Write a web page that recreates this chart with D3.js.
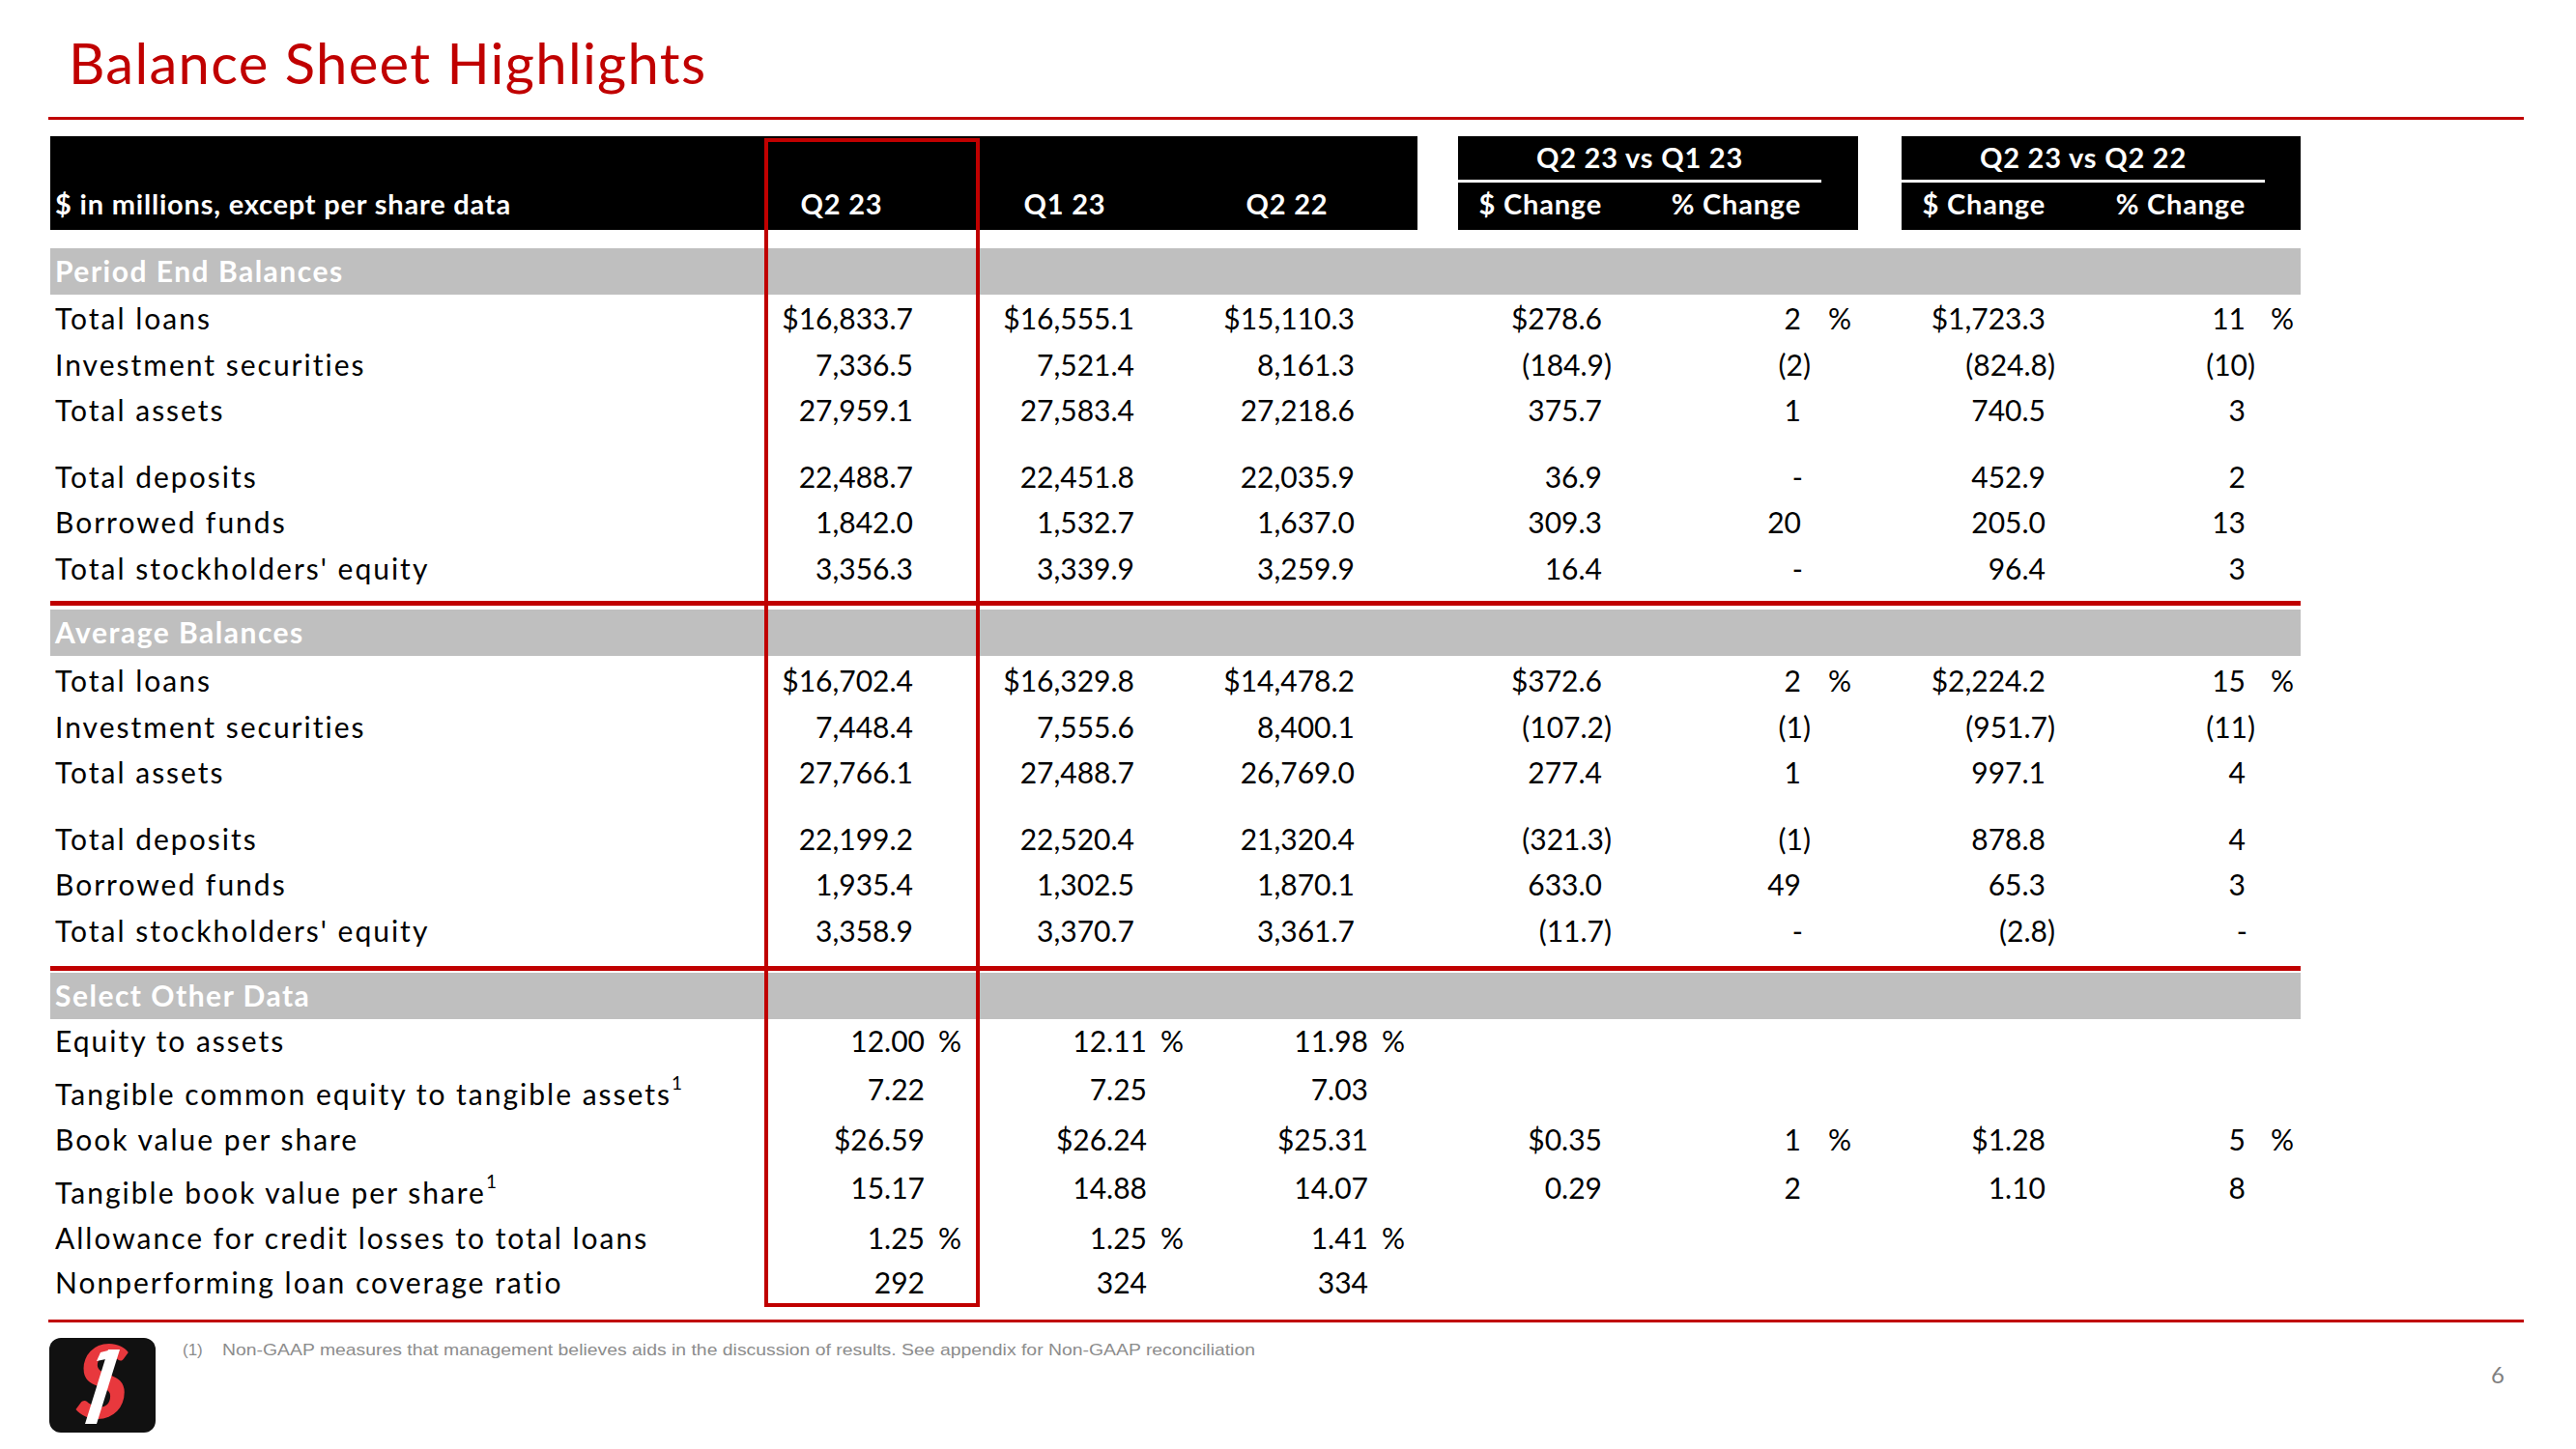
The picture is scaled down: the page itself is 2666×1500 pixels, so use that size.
<!DOCTYPE html>
<html>
<head>
<meta charset="utf-8">
<script src="https://cdn.jsdelivr.net/npm/d3@7"></script>
<style>
  html, body { margin: 0; padding: 0; background: #ffffff; }
  svg { display: block; }
</style>
</head>
<body>
<svg id="chart" width="2666" height="1500"></svg>
<script>
// ---------------- DATA ----------------
const title = "Balance Sheet Highlights";
const unitLabel = "$ in millions, except per share data";
const periodHeaders = ["Q2 23", "Q1 23", "Q2 22"];
const compareGroups = ["Q2 23 vs Q1 23", "Q2 23 vs Q2 22"];
const changeHeaders = ["$ Change", "% Change"];
const sectionTitles = ["Period End Balances", "Average Balances", "Select Other Data"];

const balanceLabels = ["Total loans", "Investment securities", "Total assets",
  "Total deposits", "Borrowed funds", "Total stockholders' equity"];

const periodQ223 = [16833.7, 7336.5, 27959.1, 22488.7, 1842.0, 3356.3];
const periodQ123 = [16555.1, 7521.4, 27583.4, 22451.8, 1532.7, 3339.9];
const periodQ222 = [15110.3, 8161.3, 27218.6, 22035.9, 1637.0, 3259.9];
const periodChgQ = [278.6, -184.9, 375.7, 36.9, 309.3, 16.4];
const periodPctQ = [2, -2, 1, 0, 20, 0];
const periodChgY = [1723.3, -824.8, 740.5, 452.9, 205.0, 96.4];
const periodPctY = [11, -10, 3, 2, 13, 3];

const averageQ223 = [16702.4, 7448.4, 27766.1, 22199.2, 1935.4, 3358.9];
const averageQ123 = [16329.8, 7555.6, 27488.7, 22520.4, 1302.5, 3370.7];
const averageQ222 = [14478.2, 8400.1, 26769.0, 21320.4, 1870.1, 3361.7];
const averageChgQ = [372.6, -107.2, 277.4, -321.3, 633.0, -11.7];
const averagePctQ = [2, -1, 1, -1, 49, 0];
const averageChgY = [2224.2, -951.7, 997.1, 878.8, 65.3, -2.8];
const averagePctY = [15, -11, 4, 4, 3, 0];

const otherLabels = ["Equity to assets", "Tangible common equity to tangible assets",
  "Book value per share", "Tangible book value per share",
  "Allowance for credit losses to total loans", "Nonperforming loan coverage ratio"];
const otherFootnote = [false, true, false, true, false, false];
const otherUnit = ["%", "", "$", "", "%", ""];
const otherDecimals = [2, 2, 2, 2, 2, 0];
const otherQ223 = [12.00, 7.22, 26.59, 15.17, 1.25, 292];
const otherQ123 = [12.11, 7.25, 26.24, 14.88, 1.25, 324];
const otherQ222 = [11.98, 7.03, 25.31, 14.07, 1.41, 334];
const otherChgQ = [null, null, 0.35, 0.29, null, null];
const otherPctQ = [null, null, 1, 2, null, null];
const otherChgY = [null, null, 1.28, 1.10, null, null];
const otherPctY = [null, null, 5, 8, null, null];

const footnoteMark = "(1)";
const footnoteText = "Non-GAAP measures that management believes aids in the discussion of results. See appendix for Non-GAAP reconciliation";
const pageNumber = "6";

// ---------------- LAYOUT ----------------
const RED = "#C00000";
const GREY = "#BFBFBF";
const FONT = "Lato, 'Open Sans', sans-serif";
const svg = d3.select("#chart");

// column scales (right edges of numbers)
const colKeys = ["q223", "q123", "q222", "chgQ", "pctQ", "chgY", "pctY"];
const colRight = d3.scaleOrdinal().domain(colKeys).range([945, 1174, 1402, 1658, 1864, 2117, 2324]);
const otherRight = d3.scaleOrdinal().domain(["q223", "q123", "q222"]).range([957, 1187, 1416]);
const pctSignX = d3.scaleOrdinal().domain(["pctQ", "pctY"]).range([1892, 2350]);
const headerCenter = d3.scaleOrdinal().domain(periodHeaders).range([871, 1102, 1332]);

// row positions: slot index -> y center (gap after 3rd row)
const slots = [0, 1, 2, 3.45, 4.45, 5.45];
const balanceY = d3.scaleLinear().domain([0, 1]).range([0, 47.5]);
const otherY = d3.scaleLinear().domain([0, 1]).range([0, 50]);
const sections = [
  { band: 257, rowsTop: 330 },
  { band: 631, rowsTop: 705 },
  { band: 1007, rowsTop: 1078 }
];
const BASE = 11; // center -> baseline for 30px text

function fmtNum(v, dec, dollar) {
  const s = d3.format(",." + dec + "f")(Math.abs(v));
  if (v < 0) return "(" + s + ")";
  return (dollar ? "$" : "") + s;
}

// ---------------- TITLE ----------------
svg.append("text").attr("x", 71).attr("y", 87)
  .attr("font-family", FONT).attr("font-size", 58).attr("fill", RED)
  .attr("textLength", 659).attr("lengthAdjust", "spacing")
  .text(title);
svg.append("rect").attr("x", 50).attr("y", 121).attr("width", 2562).attr("height", 3).attr("fill", RED);

// ---------------- HEADER ----------------
svg.append("rect").attr("x", 52).attr("y", 141).attr("width", 1415).attr("height", 97).attr("fill", "#000");
svg.append("rect").attr("x", 1509).attr("y", 141).attr("width", 414).attr("height", 97).attr("fill", "#000");
svg.append("rect").attr("x", 1968).attr("y", 141).attr("width", 413).attr("height", 97).attr("fill", "#000");

const hdr = svg.append("g").attr("font-family", FONT).attr("font-weight", 700)
  .attr("font-size", 29).attr("letter-spacing", 0.8).attr("fill", "#fff");
hdr.append("text").attr("x", 57).attr("y", 222).text(unitLabel);
hdr.selectAll("text.ph").data(periodHeaders).join("text").attr("class", "ph")
  .attr("x", d => headerCenter(d)).attr("y", 222).attr("text-anchor", "middle").text(d => d);

const groupBoxes = [{ x: 1509, w: 376 }, { x: 1968, w: 376 }];
compareGroups.forEach((g, i) => {
  const b = groupBoxes[i];
  hdr.append("text").attr("x", b.x + b.w / 2).attr("y", 174).attr("text-anchor", "middle").text(g);
  svg.append("rect").attr("x", b.x).attr("y", 186).attr("width", b.w).attr("height", 3).attr("fill", "#fff");
  const keys = i === 0 ? ["chgQ", "pctQ"] : ["chgY", "pctY"];
  changeHeaders.forEach((h, j) => {
    hdr.append("text").attr("x", colRight(keys[j])).attr("y", 222)
      .attr("text-anchor", "end").text(h);
  });
});

// ---------------- SECTIONS ----------------
const body = svg.append("g").attr("font-family", FONT).attr("font-size", 30).attr("fill", "#000");
const labelsG = svg.append("g").attr("font-family", FONT).attr("font-size", 30)
  .attr("letter-spacing", 2).attr("fill", "#000");

function bandAndTitle(sec, name) {
  svg.append("rect").attr("x", 52).attr("y", sec.band).attr("width", 2329).attr("height", 48).attr("fill", GREY);
  svg.append("text").attr("x", 57).attr("y", sec.band + 24 + BASE)
    .attr("font-family", FONT).attr("font-weight", 700).attr("font-size", 30)
    .attr("letter-spacing", 1.5).attr("fill", "#fff")
    .text(name);
}

function drawNumber(x, y, v, dec, dollar) {
  if (v === null || v === undefined) return;
  const neg = v < 0;
  body.append("text").attr("x", x + (neg ? 10 : 0)).attr("y", y).attr("text-anchor", "end")
    .text(fmtNum(v, dec, dollar));
}
function drawPct(key, y, v, showSign) {
  if (v === null || v === undefined) return;
  const x = colRight(key);
  if (v === 0) {
    body.append("text").attr("x", x + 2).attr("y", y).attr("text-anchor", "end").text("-");
  } else {
    body.append("text").attr("x", x + (v < 0 ? 10 : 0)).attr("y", y).attr("text-anchor", "end")
      .text(v < 0 ? "(" + Math.abs(v) + ")" : String(v));
  }
  if (showSign) body.append("text").attr("x", pctSignX(key)).attr("y", y).text("%");
}

const balanceSets = [
  [periodQ223, periodQ123, periodQ222, periodChgQ, periodPctQ, periodChgY, periodPctY],
  [averageQ223, averageQ123, averageQ222, averageChgQ, averagePctQ, averageChgY, averagePctY]
];

balanceSets.forEach((set, si) => {
  const sec = sections[si];
  bandAndTitle(sec, sectionTitles[si]);
  balanceLabels.forEach((lab, ri) => {
    const y = sec.rowsTop + balanceY(slots[ri]) + BASE;
    const first = ri === 0;
    labelsG.append("text").attr("x", 57).attr("y", y).text(lab);
    drawNumber(colRight("q223"), y, set[0][ri], 1, first);
    drawNumber(colRight("q123"), y, set[1][ri], 1, first);
    drawNumber(colRight("q222"), y, set[2][ri], 1, first);
    drawNumber(colRight("chgQ"), y, set[3][ri], 1, first);
    drawPct("pctQ", y, set[4][ri], first);
    drawNumber(colRight("chgY"), y, set[5][ri], 1, first);
    drawPct("pctY", y, set[6][ri], first);
  });
});

// Select other data
{
  const sec = sections[2];
  bandAndTitle(sec, sectionTitles[2]);
  const otherSlots = [0, 1, 2.03, 3.03, 4.07, 5];
  otherLabels.forEach((lab, ri) => {
    const y = sec.rowsTop + otherY(otherSlots[ri]) + BASE;
    const lt = labelsG.append("text").attr("x", 57).attr("y", y + (otherFootnote[ri] ? 5 : 0)).text(lab);
    if (otherFootnote[ri]) {
      lt.append("tspan").attr("font-size", 19).attr("letter-spacing", 0).attr("dy", -16).attr("dx", 0).text("1");
    }
    const dollar = otherUnit[ri] === "$";
    [["q223", otherQ223], ["q123", otherQ123], ["q222", otherQ222]].forEach(([k, arr]) => {
      const x = otherRight(k);
      body.append("text").attr("x", x).attr("y", y).attr("text-anchor", "end")
        .text(fmtNum(arr[ri], otherDecimals[ri], dollar));
      if (otherUnit[ri] === "%") body.append("text").attr("x", x + 14).attr("y", y).text("%");
    });
    drawNumber(colRight("chgQ"), y, otherChgQ[ri], 2, dollar);
    drawPct("pctQ", y, otherPctQ[ri], dollar);
    drawNumber(colRight("chgY"), y, otherChgY[ri], 2, dollar);
    drawPct("pctY", y, otherPctY[ri], dollar);
  });
}

// red separator lines
[622, 1000].forEach(y => {
  svg.append("rect").attr("x", 52).attr("y", y).attr("width", 2329).attr("height", 5).attr("fill", RED);
});

// highlight box around Q2 23 column
svg.append("rect").attr("x", 793).attr("y", 145).attr("width", 219).attr("height", 1206)
  .attr("fill", "none").attr("stroke", RED).attr("stroke-width", 4);

// bottom line
svg.append("rect").attr("x", 50).attr("y", 1366).attr("width", 2562).attr("height", 3).attr("fill", RED);

// ---------------- FOOTER ----------------
svg.append("text").attr("x", 189).attr("y", 1403)
  .attr("font-family", "'Liberation Sans', Arial, sans-serif").attr("font-size", 17).attr("fill", "#8C8C8C")
  .text(footnoteMark);
svg.append("text").attr("x", 230).attr("y", 1403)
  .attr("font-family", "'Liberation Sans', Arial, sans-serif").attr("font-size", 17).attr("fill", "#8C8C8C")
  .attr("textLength", 1069).attr("lengthAdjust", "spacingAndGlyphs")
  .text(footnoteText);

svg.append("text").attr("x", 2585).attr("y", 1432).attr("text-anchor", "middle")
  .attr("font-family", FONT).attr("font-size", 24).attr("fill", "#7F7F7F").text(pageNumber);

// logo
const logo = svg.append("g");
logo.append("rect").attr("x", 51).attr("y", 1385).attr("width", 110).attr("height", 98).attr("rx", 12).attr("fill", "#111");
logo.append("text").attr("x", 106).attr("y", 1468).attr("text-anchor", "middle")
  .attr("font-family", FONT).attr("font-weight", 900).attr("font-style", "italic")
  .attr("font-size", 104).attr("fill", "#E8383D").text("S");
logo.append("path").attr("d", "M112,1397 L124,1397 L100,1474 L88,1474 Z").attr("fill", "#fff");
logo.append("path").attr("d", "M104,1400 L116,1397 L114,1406 L100,1409 Z").attr("fill", "#fff");
</script>
</body>
</html>
